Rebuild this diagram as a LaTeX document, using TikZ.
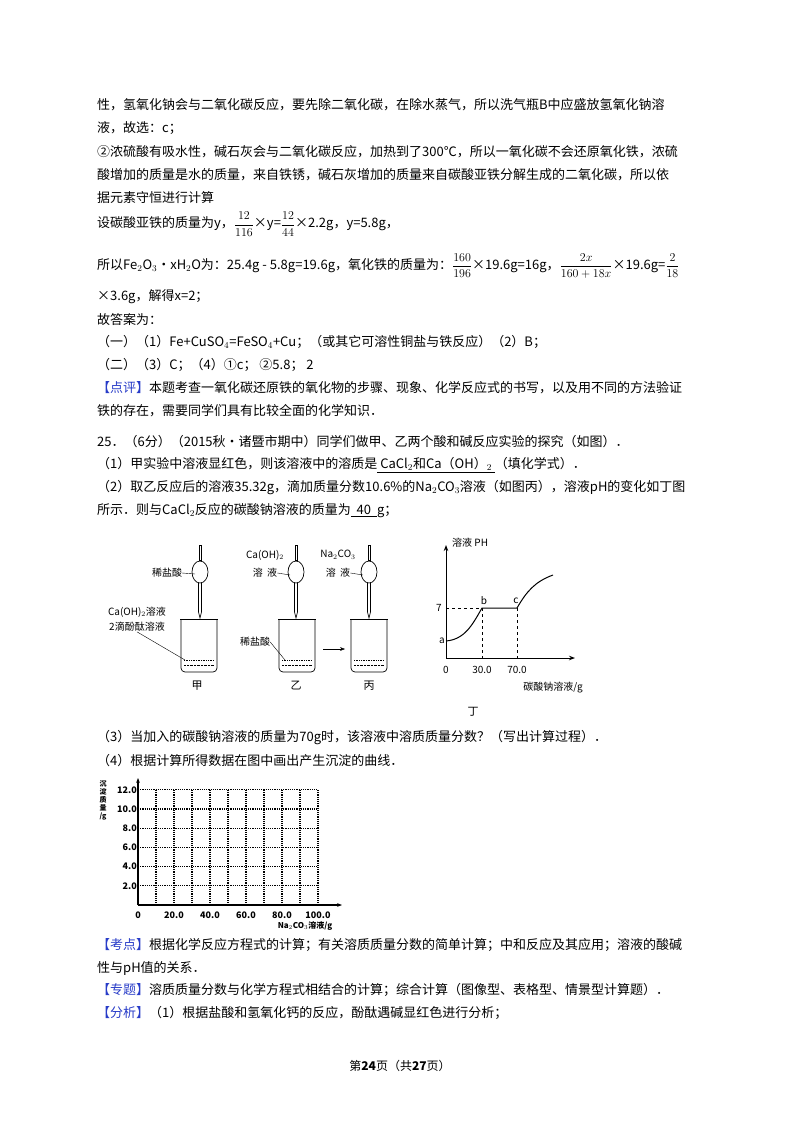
\documentclass[tikz,border=0pt]{standalone}
\usepackage{fontspec}
\setmainfont{Noto Sans CJK SC}
\usetikzlibrary{arrows.meta}
\definecolor{kblue}{RGB}{40,60,200}
\tikzset{ln/.style={anchor=west,inner sep=0pt,font=\fontsize{13}{15}\selectfont},
 lb/.style={inner sep=0pt,font=\fontsize{10}{12}\selectfont},
 grd/.style={densely dotted,line width=1.2pt},
 thin1/.style={line width=0.7pt}}
\newcommand{\ul}[1]{\underline{\hbox{\ #1\ }}}
\newcommand{\fr}[2]{\displaystyle\frac{#1}{#2}}
\begin{document}
\begin{tikzpicture}[x=1pt,y=-1pt]
\useasboundingbox[fill=white] (0,0) rectangle (800,1132);
\node[ln] (l1) at (97,105) {性，氢氧化钠会与二氧化碳反应，要先除二氧化碳，在除水蒸气，所以洗气瓶B中应盛放氢氧化钠溶};
\node[ln] (l2) at (97,128) {液，故选：c；};
\node[ln] (l3) at (97,152) {②浓硫酸有吸水性，碱石灰会与二氧化碳反应，加热到了300℃，所以一氧化碳不会还原氧化铁，浓硫};
\node[ln] (l4) at (97,175) {酸增加的质量是水的质量，来自铁锈，碱石灰增加的质量来自碳酸亚铁分解生成的二氧化碳，所以依};
\node[ln] (l5) at (97,198) {据元素守恒进行计算};
\node[ln] (l6) at (97,224) {设碳酸亚铁的质量为y，$\fr{12}{116}$×y=$\fr{12}{44}$×2.2g，y=5.8g，};
\node[ln] (l7) at (97,266) {所以Fe$_2$O$_3$•xH$_2$O为：25.4g - 5.8g=19.6g，氧化铁的质量为：$\fr{160}{196}$×19.6g=16g，$\fr{2x}{160+18x}$×19.6g=$\fr{2}{18}$};
\node[ln] (l8) at (97,297) {×3.6g，解得x=2；};
\node[ln] (l9) at (97,320) {故答案为：};
\node[ln] (l10) at (97,342) {（一）（1）Fe+CuSO$_4$=FeSO$_4$+Cu；（或其它可溶性铜盐与铁反应）（2）B；};
\node[ln] (l11) at (97,365) {（二）（3）C；（4）①c；\ ②5.8；\ 2};
\node[ln] (l12) at (97,388) {\textcolor{kblue}{【点评】}本题考查一氧化碳还原铁的氧化物的步骤、现象、化学反应式的书写，以及用不同的方法验证};
\node[ln] (l13) at (97,411) {铁的存在，需要同学们具有比较全面的化学知识．};
\node[ln] (l14) at (97,442) {25．（6分）（2015秋•诸暨市期中）同学们做甲、乙两个酸和碱反应实验的探究（如图）．};
\node[ln] (l15) at (97,465) {（1）甲实验中溶液显红色，则该溶液中的溶质是\ul{CaCl$_2$和Ca（OH）$_2$}（填化学式）．};
\node[ln] (l16) at (97,488) {（2）取乙反应后的溶液35.32g，滴加质量分数10.6\%的Na$_2$CO$_3$溶液（如图丙），溶液pH的变化如丁图};
\node[ln] (l17) at (97,511) {所示．则与CaCl$_2$反应的碳酸钠溶液的质量为\ul{\ 40\ }g；};
% apparatus
\foreach \bx/\dx/\nm in {181/200/A,279/296/B,351/369/C}{
 \draw[thin1] (\bx,619) -- (\bx,668) to[out=-90,in=180] (\bx+4,672) -- (\bx+32,672) to[out=0,in=-90] (\bx+36,668) -- (\bx+36,619);
 \draw[thin1] (\bx-1,619) -- (\bx+37,619);
 \draw[densely dotted,thin1] (\bx+3,660) -- (\bx+33,660);
 \draw[densely dotted] (\bx+3,665) -- (\bx+33,665);
 \draw[thin1] (\dx-1,545) rectangle (\dx+1,560);
 \draw[thin1] (\dx,572) ellipse (8 and 11);
 \draw[thin1] (\dx-1.5,583) -- (\dx-1.5,612) -- (\dx,618) -- (\dx+1.5,612) -- (\dx+1.5,583);
}
\node[lb] (t1) at (167,573) {稀盐酸};
\draw (t1.east) -- (195,574);
\node[lb] (t2) at (137,612) {Ca(OH)$_2$溶液};
\node[lb] (t3) at (137,627) {2滴酚酞溶液};
\draw (t3.south) -- (185,660);
\node[lb] (t4) at (265,555) {Ca(OH)$_2$};
\node[lb] (t5) at (265,573) {溶\ \ 液};
\draw (t5.east) -- (290,575);
\node[lb] (t6) at (338,555) {Na$_2$CO$_3$};
\node[lb] (t7) at (338,573) {溶\ \ 液};
\draw (t7.east) -- (363,575);
\node[lb] (t8) at (255,642) {稀盐酸};
\draw (t8.east) -- (285,660);
\coordinate (ar1) at (323,649); \coordinate (ar2) at (345,649);
\draw[-{Stealth[length=5pt]}] (ar1) -- (ar2);
\node[lb,font=\fontsize{11}{12}\selectfont] (jia) at (197,686) {甲};
\node[lb,font=\fontsize{11}{12}\selectfont] (yi) at (296,686) {乙};
\node[lb,font=\fontsize{11}{12}\selectfont] (bing) at (369,686) {丙};
% graph 丁
\coordinate (O) at (446,658);
\draw[line width=1pt,-{Stealth[length=6pt]}] (O) -- (446,545);
\draw[line width=1pt,-{Stealth[length=6pt]}] (O) -- (575,658);
\node[lb,anchor=west] (ph) at (452,543) {溶液 PH};
\node[lb] (seven) at (439,608) {7};
\node[lb] (a) at (442,641) {a};
\node[lb] (b) at (484,601) {b};
\node[lb] (c) at (516,601) {c};
\draw[dashed] (446,608) -- (482,608);
\draw[dashed] (482,608) -- (482,658);
\draw[dashed] (517,608) -- (517,658);
\draw[line width=1pt] (446,641) to[out=5,in=-120] (482,608) -- (517,608) to[out=60,in=200] (553,575);
\node[lb] (x0) at (446,670) {0};
\node[lb] (x30) at (482,670) {30.0};
\node[lb] (x70) at (517,670) {70.0};
\node[lb] (xl) at (553,688) {碳酸钠溶液/g};
\node[lb,font=\itshape\fontsize{11}{12}\selectfont] (ding) at (473,712) {丁};
\node[ln] (l18) at (97,738) {（3）当加入的碳酸钠溶液的质量为70g时，该溶液中溶质质量分数？（写出计算过程）．};
\node[ln] (l19) at (97,761) {（4）根据计算所得数据在图中画出产生沉淀的曲线．};
% grid
\foreach \i in {1,...,10}{\draw[grd] (138+\i*18,790) -- (138+\i*18,905);}
\foreach \j/\t in {1/2.0,2/4.0,3/6.0,4/8.0,5/10.0,6/12.0}{
 \draw[grd] (138,905-\j*19.2) -- (318,905-\j*19.2);
 \node[lb,anchor=east,font=\bfseries\fontsize{9}{10}\selectfont] at (137,905-\j*19.2) {\t};}
\draw[line width=1.2pt,-{Stealth[length=5pt]}] (138,905) -- (138,778);
\draw[line width=1.2pt,-{Stealth[length=5pt]}] (138,905) -- (342,905);
\foreach \i/\t in {0/0,2/20.0,4/40.0,6/60.0,8/80.0,10/100.0}{
 \node[lb,font=\bfseries\fontsize{9}{10}\selectfont] at (138+\i*18,915) {\t};}
\node[lb,font=\bfseries\fontsize{7}{8}\selectfont,align=center] (yl) at (103,800) {沉\\淀\\质\\量\\/g};
\node[lb,font=\bfseries\fontsize{8}{9}\selectfont] (xl2) at (305,926) {Na$_2$CO$_3$溶液/g};
\node[ln] (l20) at (97,945) {\textcolor{kblue}{【考点】}根据化学反应方程式的计算；有关溶质质量分数的简单计算；中和反应及其应用；溶液的酸碱};
\node[ln] (l21) at (97,968) {性与pH值的关系．};
\node[ln] (l22) at (97,990) {\textcolor{kblue}{【专题】}溶质质量分数与化学方程式相结合的计算；综合计算（图像型、表格型、情景型计算题）．};
\node[ln] (l23) at (97,1013) {\textcolor{kblue}{【分析】}（1）根据盐酸和氢氧化钙的反应，酚酞遇碱显红色进行分析；};
\node[inner sep=0pt,font=\fontsize{12}{14}\selectfont] (pg) at (400,1066) {第\textbf{24}页（共\textbf{27}页）};
\end{tikzpicture}
\end{document}
